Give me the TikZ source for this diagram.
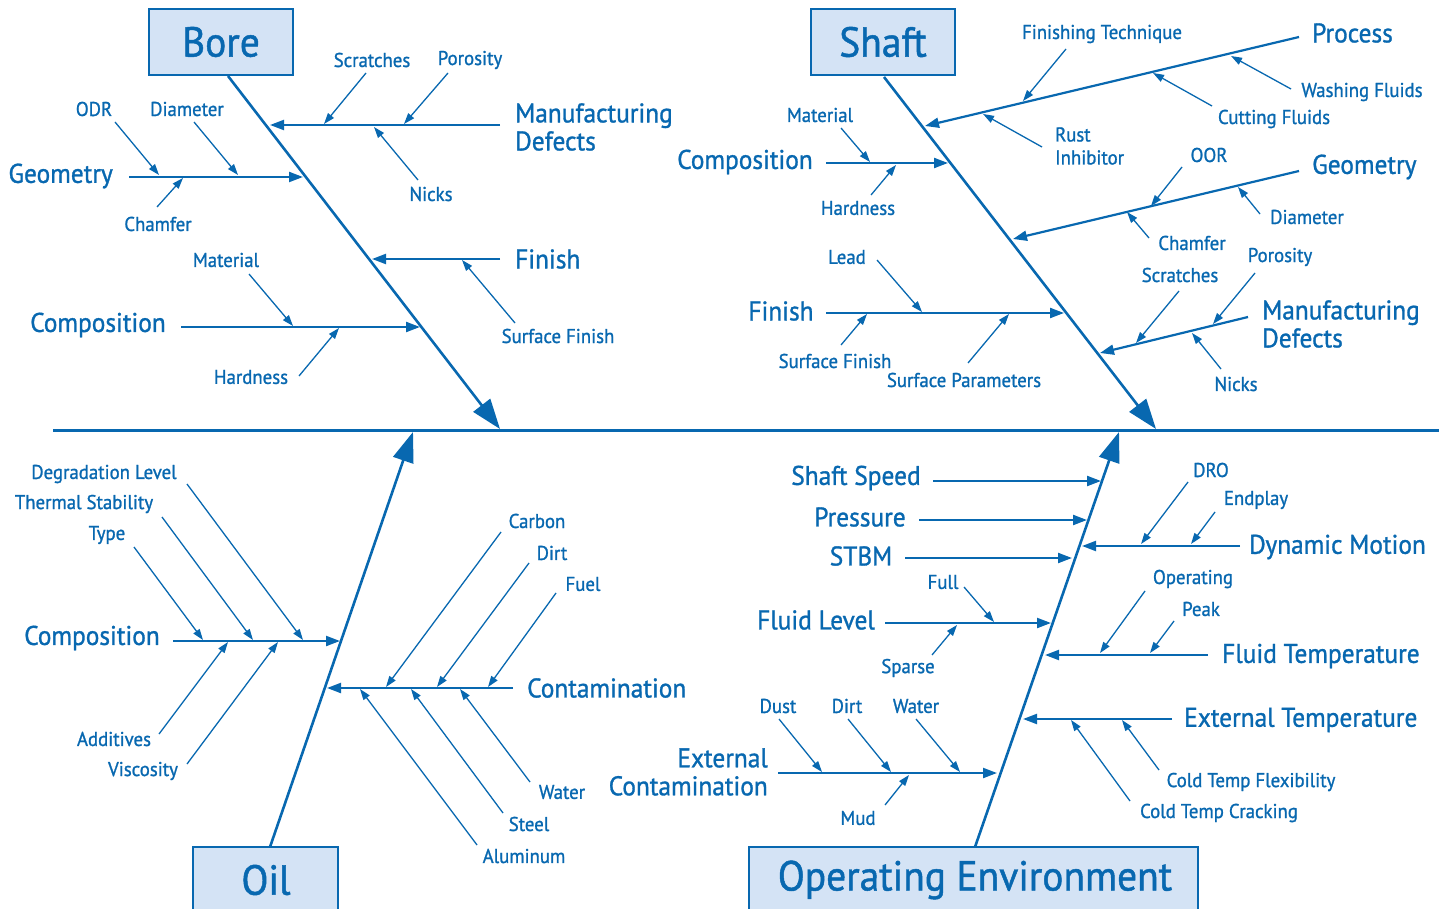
\documentclass[tikz,border=0pt]{standalone}
\usepackage{fontspec}
\setmainfont{PT Sans}[FakeStretch=0.94, FakeBold=1.1]
\usetikzlibrary{arrows.meta}
\definecolor{fbblue}{HTML}{0868B0}
\definecolor{fbfill}{HTML}{D4E3F5}
\tikzset{
  headbox/.style={draw=fbblue, fill=fbfill, line width=2pt},
  headtxt/.style={text=fbblue, font=\fontsize{42}{44}\selectfont, inner sep=0pt},
  cat/.style={text=fbblue, font=\fontsize{27}{28}\selectfont, inner sep=0pt},
  lab/.style={text=fbblue, font=\fontsize{20}{23}\selectfont, inner sep=0pt},
  bone/.style={fbblue, line width=2.6pt, -{Triangle[length=30pt,width=21pt]}},
  branch/.style={fbblue, line width=2.2pt, -{Triangle[length=14pt,width=10pt]}},
  twig/.style={fbblue, line width=1.3pt, -{Triangle[length=11pt,width=7.5pt]}},
}
\begin{document}
\begin{tikzpicture}[x=1pt, y=-1pt]
  \useasboundingbox (0,0) rectangle (1439,909);
  % Rückgrat
  \draw[fbblue, line width=3pt] (53,430) -- (1439,430);

  % Bore
  \draw[headbox] (149,9) rectangle (293,75);
  \node[headtxt] (bore) at (221,42) {Bore};
  \draw[bone] (228,76) -- (500,429);
  \node[cat, anchor=west, align=left] (boreman) at (515,127) {Manufacturing\\Defects};
  \draw[branch] (500,125) -- (270,125);
  \node[lab] (borescr) at (372,60) {Scratches};
  \node[lab] (borepor) at (470,60) {Porosity};
  \node[lab] (borenik) at (431,194) {Nicks};
  \draw[twig] (366,73) -- (324,124);
  \draw[twig] (448,73) -- (404,124);
  \draw[twig] (418,180) -- (374,127);
  \node[cat, anchor=east] (boregeo) at (113,176) {Geometry};
  \draw[branch] (129,177) -- (303,177);
  \node[lab] (boreodr) at (94,109) {ODR};
  \node[lab] (boredia) at (187,109) {Diameter};
  \node[lab] (borecha) at (158,224) {Chamfer};
  \draw[twig] (115,122) -- (159,175);
  \draw[twig] (194,122) -- (238,175);
  \draw[twig] (157,207) -- (183,178);
  \node[cat, anchor=west] (borefin) at (515,259) {Finish};
  \draw[branch] (500,259) -- (372,259);
  \node[lab] (boresurf) at (558,336) {Surface Finish};
  \draw[twig] (515,323) -- (462,260);
  \node[cat] (borecom) at (98,325) {Composition};
  \draw[branch] (181,327) -- (420,327);
  \node[lab] (boremat) at (226,260) {Material};
  \node[lab] (borehar) at (251,377) {Hardness};
  \draw[twig] (249,274) -- (293,326);
  \draw[twig] (299,376) -- (339,328);

  % Shaft
  \draw[headbox] (811,9) rectangle (955,75);
  \node[headtxt] (shaft) at (883,42) {Shaft};
  \draw[bone] (884,77) -- (1156,429);
  \node[cat, anchor=west] (shpro) at (1312,33) {Process};
  \draw[branch] (1299,37) -- (925,126);
  \node[lab] (shfin) at (1102,34) {Finishing Technique};
  \node[lab] (shwas) at (1362,92) {Washing Fluids};
  \node[lab] (shcut) at (1274,119) {Cutting Fluids};
  \node[lab, anchor=west, align=left] (shrust) at (1055,146) {Rust\\Inhibitor};
  \draw[twig] (1066,49) -- (1023,101);
  \draw[twig] (1291,89) -- (1231,56);
  \draw[twig] (1212,106) -- (1153,73);
  \draw[twig] (1042,147) -- (983,114);
  \node[cat] (shcom) at (745,162) {Composition};
  \draw[branch] (826,163) -- (948,163);
  \node[lab] (shmat) at (820,115) {Material};
  \node[lab] (shhar) at (858,208) {Hardness};
  \draw[twig] (841,128) -- (870,162);
  \draw[twig] (871,195) -- (896,165);
  \node[cat, anchor=west] (shgeo) at (1312,167) {Geometry};
  \draw[branch] (1299,171) -- (1013,239);
  \node[lab] (shoor) at (1209,155) {OOR};
  \node[lab] (shdia) at (1307,217) {Diameter};
  \node[lab] (shcha) at (1192,243) {Chamfer};
  \draw[twig] (1182,167) -- (1151,206);
  \draw[twig] (1260,214) -- (1238,187);
  \draw[twig] (1149,238) -- (1127,212);
  \node[cat] (shfinish) at (781,311) {Finish};
  \draw[branch] (826,313) -- (1064,313);
  \node[lab] (shlead) at (847,257) {Lead};
  \node[lab] (shsurf) at (835,361) {Surface Finish};
  \node[lab] (shpar) at (964,380) {Surface Parameters};
  \draw[twig] (877,260) -- (922,312);
  \draw[twig] (841,345) -- (867,314);
  \draw[twig] (968,363) -- (1009,314);
  \node[cat, anchor=west, align=left] (shman) at (1262,324) {Manufacturing\\Defects};
  \draw[branch] (1248,317) -- (1100,353);
  \node[lab] (shscr) at (1180,275) {Scratches};
  \node[lab] (shpor) at (1280,257) {Porosity};
  \node[lab] (shnik) at (1236,384) {Nicks};
  \draw[twig] (1179,291) -- (1136,343);
  \draw[twig] (1255,273) -- (1213,324);
  \draw[twig] (1221,369) -- (1192,333);

  % Oil
  \draw[headbox] (193,847) rectangle (338,915);
  \node[headtxt] (oil) at (266,880) {Oil};
  \draw[bone] (270,847) -- (413,432);
  \node[cat] (oilcom) at (92,638) {Composition};
  \draw[branch] (173,641) -- (340,641);
  \node[lab] (oildeg) at (104,474) {Degradation Level};
  \node[lab] (oilthe) at (84,504) {Thermal Stability};
  \node[lab] (oiltyp) at (107,535) {Type};
  \node[lab] (oiladd) at (114,739) {Additives};
  \node[lab] (oilvis) at (143,771) {Viscosity};
  \draw[twig] (134,547) -- (203,640);
  \draw[twig] (162,517) -- (253,640);
  \draw[twig] (187,484) -- (303,640);
  \draw[twig] (159,734) -- (228,642);
  \draw[twig] (187,764) -- (278,642);
  \node[cat, anchor=west] (oilcon) at (527,688) {Contamination};
  \draw[branch] (513,688) -- (327,688);
  \node[lab] (oilcar) at (537,521) {Carbon};
  \node[lab] (oildir) at (552,553) {Dirt};
  \node[lab] (oilfue) at (583,584) {Fuel};
  \node[lab] (oilwat) at (562,792) {Water};
  \node[lab] (oilste) at (529,824) {Steel};
  \node[lab] (oilalu) at (524,856) {Aluminum};
  \draw[twig] (501,532) -- (386,687);
  \draw[twig] (529,563) -- (437,687);
  \draw[twig] (556,593) -- (488,687);
  \draw[twig] (530,782) -- (460,689);
  \draw[twig] (503,813) -- (411,689);
  \draw[twig] (477,845) -- (360,689);

  % Operating Environment
  \draw[headbox] (749,847) rectangle (1198,915);
  \node[headtxt] (openv) at (975,880) {Operating Environment};
  \draw[bone] (975,847) -- (1119,432);
  \node[cat] (opspe) at (856,478) {Shaft Speed};
  \draw[branch] (933,481) -- (1101,481);
  \node[cat] (oppre) at (860,517) {Pressure};
  \draw[branch] (919,520) -- (1087,520);
  \node[cat] (opstb) at (861,556) {STBM};
  \draw[branch] (905,558) -- (1072,558);
  \node[cat, anchor=west] (opdyn) at (1249,547) {Dynamic Motion};
  \draw[branch] (1240,546) -- (1082,546);
  \node[lab] (opdro) at (1211,470) {DRO};
  \node[lab] (opend) at (1256,500) {Endplay};
  \draw[twig] (1188,482) -- (1141,544);
  \draw[twig] (1215,512) -- (1191,544);
  \node[cat] (opflu) at (816,620) {Fluid Level};
  \draw[branch] (885,623) -- (1051,623);
  \node[lab] (opful) at (943,582) {Full};
  \node[lab] (opspa) at (908,668) {Sparse};
  \draw[twig] (964,587) -- (994,622);
  \draw[twig] (932,655) -- (957,625);
  \node[cat, anchor=west] (opflt) at (1222,656) {Fluid Temperature};
  \draw[branch] (1208,655) -- (1045,655);
  \node[lab] (opope) at (1193,579) {Operating};
  \node[lab] (oppea) at (1201,609) {Peak};
  \draw[twig] (1145,591) -- (1100,653);
  \draw[twig] (1174,621) -- (1150,653);
  \node[cat, anchor=west] (opext) at (1184,720) {External Temperature};
  \draw[branch] (1172,719) -- (1023,719);
  \node[lab] (opcfl) at (1251,782) {Cold Temp Flexibility};
  \node[lab] (opccr) at (1219,813) {Cold Temp Cracking};
  \draw[twig] (1159,770) -- (1122,720);
  \draw[twig] (1130,801) -- (1071,720);
  \node[cat, anchor=east, align=right] (opexc) at (768,772) {External\\Contamination};
  \draw[branch] (778,773) -- (997,773);
  \node[lab] (opdus) at (778,706) {Dust};
  \node[lab] (opdir) at (847,706) {Dirt};
  \node[lab] (opwat) at (916,706) {Water};
  \node[lab] (opmud) at (858,818) {Mud};
  \draw[twig] (779,719) -- (822,772);
  \draw[twig] (848,719) -- (891,772);
  \draw[twig] (916,719) -- (960,772);
  \draw[twig] (885,805) -- (909,775);
\end{tikzpicture}
\end{document}
